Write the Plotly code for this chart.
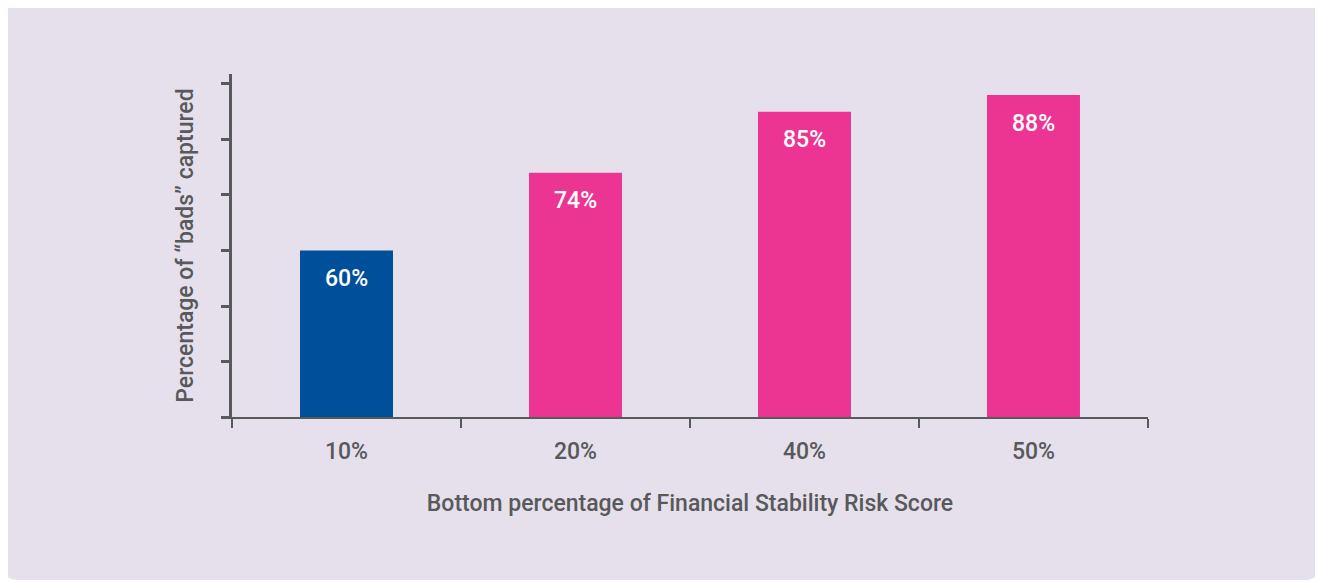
import plotly.graph_objects as go

categories = ["10%", "20%", "40%", "50%"]
values = [60, 74, 85, 88]
bar_colors = ["#004f9b", "#ec3592", "#ec3592", "#ec3592"]
value_labels = ["60%", "74%", "85%", "88%"]

# page has an 8px body margin, so the figure is drawn 8px smaller and shifted
W, H = 1315, 574
L, R, T, B = 224, 175, 66, 165
pw, ph = W - L - R, H - T - B
grey = "#58595b"
panel = "#e6e0ec"

fig = go.Figure()
fig.add_trace(go.Bar(x=categories, y=values, marker=dict(color=bar_colors, line=dict(width=0)),
                     hoverinfo="skip", showlegend=False))

for c, v, t in zip(categories, values, value_labels):
    fig.add_annotation(x=c, y=v, text=t, showarrow=False, yshift=-28,
                       font=dict(family="Roboto", size=23, color="white", weight=500))

def px(p):
    return (p - L) / pw

def py(q):
    return (H - B - q) / ph

x0, x1, y0, y1, r = -6, 1312, -7, 572, 16
path = (f"M {px(x0+r)},{py(y0)} L {px(x1-r)},{py(y0)} Q {px(x1)},{py(y0)} {px(x1)},{py(y0+r)} "
        f"L {px(x1)},{py(y1-r)} Q {px(x1)},{py(y1)} {px(x1-r)},{py(y1)} "
        f"L {px(x0+r)},{py(y1)} Q {px(x0)},{py(y1)} {px(x0)},{py(y1-r)} "
        f"L {px(x0)},{py(y0+r)} Q {px(x0)},{py(y0)} {px(x0+r)},{py(y0)} Z")
fig.add_shape(type="path", path=path, xref="paper", yref="paper", layer="below",
              fillcolor=panel, line=dict(width=0))

fig.update_layout(
    width=W, height=H,
    margin=dict(l=L, r=R, t=T, b=B),
    paper_bgcolor="white", plot_bgcolor="rgba(0,0,0,0)",
    bargap=0.594,
    font=dict(family="Roboto", color=grey),
    xaxis=dict(type="category", tickson="boundaries", ticks="outside", ticklen=9, tickwidth=2,
               tickcolor=grey, showline=True, linecolor=grey, linewidth=2, showgrid=False,
               tickfont=dict(size=23, color=grey, weight=500), ticklabelstandoff=12,
               title=dict(text="Bottom percentage of Financial Stability Risk Score",
                          font=dict(size=23, color=grey, weight=500), standoff=31)),
    yaxis=dict(range=[30, 91.8], tickvals=[30, 40, 50, 60, 70, 80, 90], showticklabels=False,
               ticks="outside", ticklen=8, tickwidth=3, tickcolor=grey, showline=True,
               linecolor=grey, linewidth=3, showgrid=False, zeroline=False,
               title=dict(text="Percentage of “bads” captured",
                          font=dict(size=23, color=grey, weight=500), standoff=21)),
)

fig.write_html("out.html")
